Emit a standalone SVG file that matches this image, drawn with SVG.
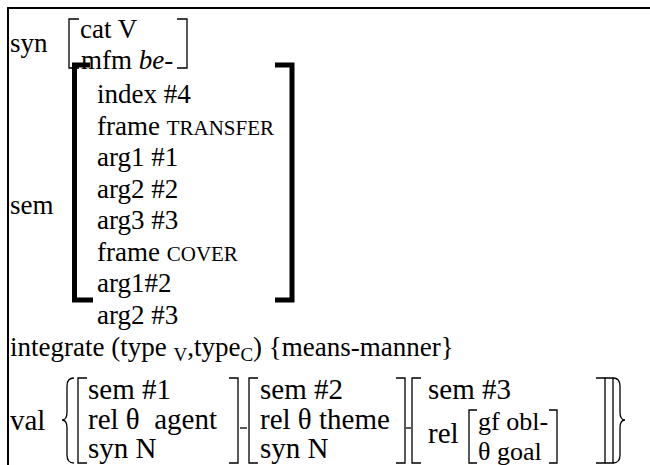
<svg xmlns="http://www.w3.org/2000/svg" width="650" height="465" viewBox="0 0 650 465" font-family="'Liberation Serif', 'DejaVu Serif', serif">
  <style>
    text { font-family: 'Liberation Serif', 'DejaVu Serif', serif; font-size: 27px; fill: #000; }
    .sc { font-size: 21px; }
    .sub { font-size: 19px; }
    .v { font-size: 29px; }
    .vi { font-size: 26px; }
    .thin { fill: none; stroke: #000; stroke-width: 1.3; }
    .thick { fill: none; stroke: #000; stroke-width: 5; stroke-linejoin: miter; }
    .frame { fill: none; stroke: #000; stroke-width: 2; }
  </style>
  <rect width="650" height="465" fill="#fff"/>

  <!-- outer frame: top and left rules only -->
  <path class="frame" d="M 8 465 V 8 H 650"/>

  <!-- syn feature -->
  <g id="syn">
    <text x="10" y="52">syn</text>
    <path class="thin" d="M 79 19 H 69 V 68 H 79"/>
    <path class="thin" d="M 177 19 H 187 V 68 H 177"/>
    <text x="80" y="38">cat V</text>
    <text x="81" y="69">mfm <tspan font-style="italic">be-</tspan></text>
  </g>

  <!-- sem feature -->
  <g id="sem">
    <text x="10" y="214">sem</text>
    <path class="thick" d="M 90 65 H 74.5 V 300 H 93"/>
    <path class="thick" d="M 275 65 H 292 V 300 H 275"/>
    <text x="97" y="103">index #4</text>
    <text x="97" y="134.5">frame <tspan class="sc">TRANSFER</tspan></text>
    <text x="97" y="166">arg1 #1</text>
    <text x="97" y="197.5">arg2 #2</text>
    <text x="97" y="229">arg3 #3</text>
    <text x="97" y="260.5">frame <tspan class="sc">COVER</tspan></text>
    <text x="97" y="292">arg1#2</text>
    <text x="97" y="323.5">arg2 #3</text>
  </g>

  <!-- integrate line -->
  <g id="integrate">
    <text x="10" y="356">integrate (type <tspan class="sub" dy="5">V</tspan><tspan dy="-5">,type</tspan><tspan class="sub" dy="5">C</tspan><tspan dy="-5">) {means-manner}</tspan></text>
  </g>

  <!-- val feature -->
  <g id="val">
    <text class="v" x="10" y="430">val</text>
    <path class="thin" d="M 74 378 Q 67 378 67 386 V 412 Q 67 420 62 420 Q 67 420 67 428 V 455 Q 67 463 74 463"/>
    <path class="thin" d="M 613 378 Q 620 378 620 386 V 412 Q 620 420 625 420 Q 620 420 620 428 V 455 Q 620 463 613 463"/>
  </g>

  <g id="arg-agent">
    <path class="thin" d="M 87 378 H 78 V 463 H 87"/>
    <path class="thin" d="M 229 378 H 238 V 463 H 229"/>
    <text class="v" x="88" y="399">sem #1</text>
    <text class="v" x="88" y="429" xml:space="preserve">rel θ  agent</text>
    <text class="v" x="88" y="458">syn N</text>
  </g>

  <g id="arg-theme">
    <path class="thin" d="M 258 378 H 249 V 463 H 258"/>
    <path class="thin" d="M 396 378 H 405 V 463 H 396"/>
    <text class="v" x="260" y="399">sem #2</text>
    <text class="v" x="260" y="429">rel θ theme</text>
    <text class="v" x="260" y="458">syn N</text>
  </g>

  <g id="arg-goal">
    <path class="thin" d="M 421 378 H 412 V 463 H 421"/>
    <path class="thin" d="M 596 378 H 605 V 463 H 596"/>
    <path class="thin" d="M 605 378 H 613 V 463 H 605"/>
    <text class="v" x="428" y="399">sem #3</text>
    <text class="v" x="428" y="443">rel</text>
    <path class="thin" d="M 477 410 H 469 V 463 H 477"/>
    <path class="thin" d="M 549 410 H 557 V 463 H 549"/>
    <text class="vi" x="478" y="430">gf obl-</text>
    <text class="vi" x="478" y="460">θ goal</text>
  </g>

  <!-- joins between argument structures -->
  <g id="connectors">
    <path class="thin" d="M 240 428 H 247"/>
    <path class="thin" d="M 406 428 H 411"/>
  </g>
</svg>
